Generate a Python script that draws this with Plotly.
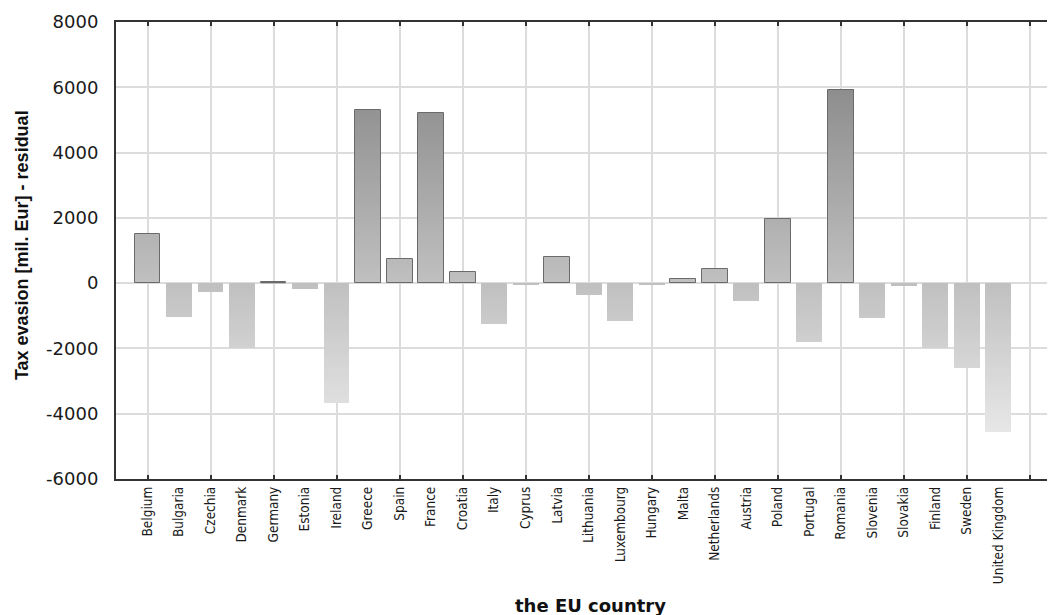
import numpy as np
import plotly.graph_objects as go

countries = ["Belgium", "Bulgaria", "Czechia", "Denmark", "Germany", "Estonia", "Ireland",
             "Greece", "Spain", "France", "Croatia", "Italy", "Cyprus", "Latvia", "Lithuania",
             "Luxembourg", "Hungary", "Malta", "Netherlands", "Austria", "Poland", "Portugal",
             "Romania", "Slovenia", "Slovakia", "Finland", "Sweden", "United Kingdom"]
residuals = [1500, -1010, -280, -1980, 20, -150, -3650,
             5300, 750, 5200, 350, -1250, -50, 800, -350,
             -1150, -50, 130, 430, -530, 1950, -1800,
             5930, -1050, -100, -1980, -2600, -4550]
y_ticks = [-6000, -4000, -2000, 0, 2000, 4000, 6000, 8000]
y_tick_text = ["-6000", "-4000", "-2000", "0", "2000", "4000", "6000", "8000"]

vals = np.array(residuals, dtype=float)
idx = np.arange(len(countries))
BAR_W = 0.82


def gray(yv):
    g = int(round(192 - 0.0085 * yv))
    g = max(120, min(235, g))
    return f"rgb({g},{g},{g})"


fig = go.Figure()

# vertical gradient: bars drawn in thin bands, colored by height
edges = np.arange(-6000, 8001, 100)
for lo, hi in zip(edges[:-1], edges[1:]):
    a = np.maximum(np.minimum(vals, 0), lo)
    b = np.minimum(np.maximum(vals, 0), hi)
    h = b - a
    if not np.any(h > 0):
        continue
    yy = [float(v) if v > 0 else None for v in h]
    fig.add_trace(go.Bar(x=idx, y=yy, base=a, width=BAR_W,
                         marker=dict(color=gray((lo + hi) / 2), line=dict(width=0)),
                         hoverinfo="skip", showlegend=False))

# outline
line_cols = ["#6a6a6a" if v > 0 else "rgba(0,0,0,0)" for v in vals]
fig.add_trace(go.Bar(x=idx, y=vals, width=BAR_W, customdata=countries,
                     marker=dict(color="rgba(0,0,0,0)", line=dict(color=line_cols, width=1)),
                     hovertemplate="%{customdata}: %{y}<extra></extra>", showlegend=False))

# dummy trace for label axis
fig.add_trace(go.Scatter(x=idx, y=[None] * len(idx), xaxis="x2", showlegend=False,
                         hoverinfo="skip"))

xr = [-1, 28.8]
fig.update_layout(
    width=1047, height=607,
    margin=dict(l=108, r=0, t=14, b=136),
    paper_bgcolor="white", plot_bgcolor="white",
    barmode="overlay", bargap=0,
    font=dict(family="Liberation Sans, Arial, sans-serif", color="#1a1a1a"),
    xaxis=dict(range=xr, tickmode="array", tickvals=list(range(0, 29, 2)),
               showticklabels=False, showgrid=True, gridcolor="#dcdcdc", gridwidth=2,
               ticks="inside", ticklen=4, tickwidth=2, tickcolor="#333",
               showline=True, linecolor="#333", linewidth=2, mirror="ticks",
               zeroline=False),
    xaxis2=dict(range=xr, overlaying="x", side="bottom", tickmode="array",
                tickvals=list(idx), ticktext=countries, tickangle=-90,
                showgrid=False, zeroline=False, showline=False, ticks="",
                ticklabelstandoff=4,
                tickfont=dict(family="DejaVu Sans Condensed, Liberation Sans, Arial",
                              size=13.5, color="#1a1a1a")),
    yaxis=dict(range=[-6000, 8000], tickmode="array", tickvals=y_ticks, ticktext=y_tick_text,
               showgrid=True, gridcolor="#dcdcdc", gridwidth=2, zeroline=False,
               showline=True, linecolor="#333", linewidth=2, ticks="",
               ticklabelstandoff=12,
               tickfont=dict(family="DejaVu Sans, Liberation Sans, Arial", size=18,
                             color="#1a1a1a")),
    annotations=[
        dict(text="<b>Tax evasion [mil. Eur] - residual</b>", xref="paper", yref="paper",
             x=-0.1, y=0.512, xanchor="center", yanchor="middle", textangle=-90,
             showarrow=False, font=dict(size=18, family="Liberation Sans, Arial", color="#111")),
        dict(text="<b>the EU country</b>", xref="paper", yref="paper",
             x=0.505, y=-0.276, xanchor="center", yanchor="middle",
             showarrow=False, font=dict(size=18, family="DejaVu Sans, Liberation Sans, Arial",
                                        color="#111")),
    ],
)

fig.write_html("out.html")
